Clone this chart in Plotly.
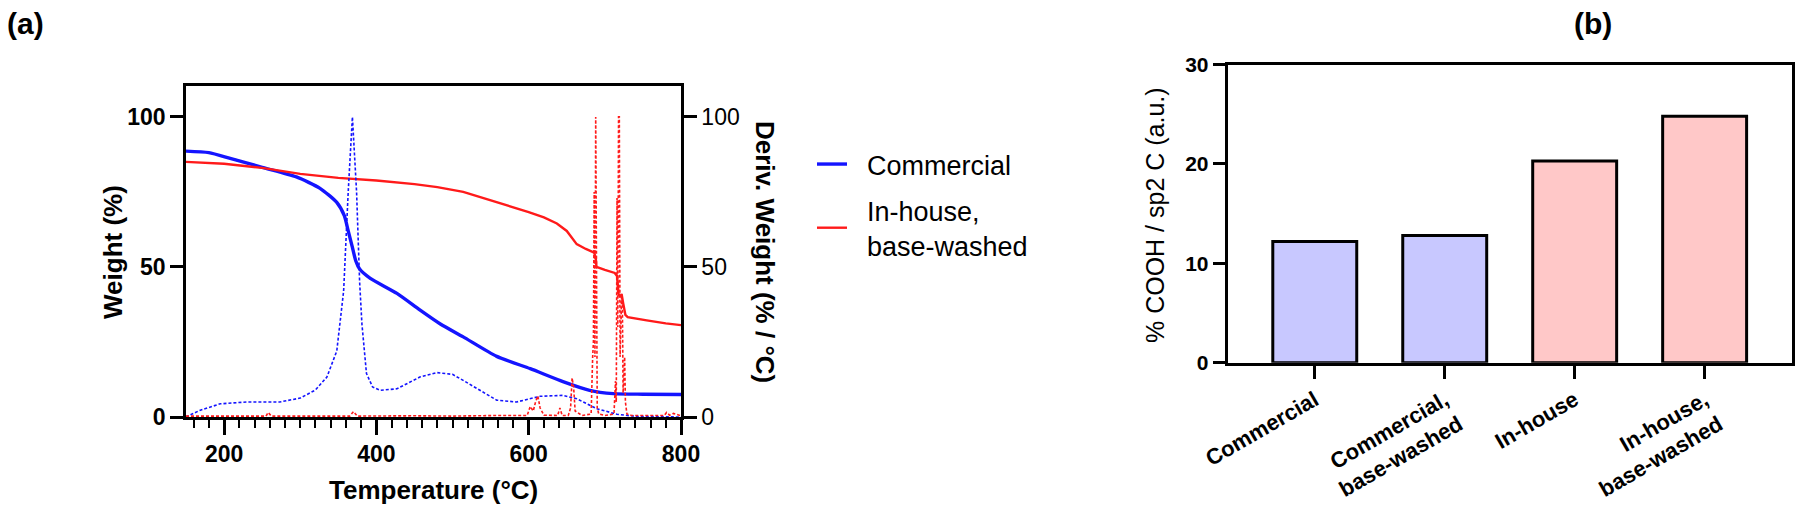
import plotly.graph_objects as go

# ---------------- Panel (a): TGA data ----------------
T_com_w = [150, 180, 208, 250, 295, 326, 348, 358, 363, 368, 373, 378, 392, 427, 457, 484, 514, 558, 602, 645, 680, 711, 750, 800]
W_com = [88.6, 88.1, 86.2, 83.2, 80.0, 76.2, 71.5, 67.0, 62.0, 57.0, 52.0, 49.3, 46.2, 41.2, 35.7, 31.0, 26.7, 20.2, 16.1, 11.8, 8.9, 7.8, 7.6, 7.5]

T_inh_w = [150, 200, 250, 300, 350, 400, 450, 480, 514, 558, 600, 620, 637, 650, 656, 663, 675, 686, 688, 689, 700, 713, 716, 718, 720, 722, 724, 727, 730, 740, 755, 780, 800]
W_inh = [85.0, 84.4, 83.0, 81.0, 79.7, 78.8, 77.6, 76.6, 75.0, 71.7, 68.3, 66.5, 64.5, 62.0, 60.0, 57.6, 56.0, 54.8, 53.0, 50.0, 49.0, 48.0, 47.0, 41.0, 40.0, 41.0, 38.0, 34.0, 33.3, 32.8, 32.2, 31.2, 30.6]

T_com_d = [150, 168, 195, 230, 273, 300, 320, 335, 348, 357, 363, 368.5, 374, 378, 381, 387, 395, 405, 427, 457, 480, 500, 514, 536, 558, 584, 615, 645, 663, 689, 716, 741, 800]
D_com = [0, 2.2, 4.4, 5.0, 5.0, 6.3, 9.0, 13.3, 22.0, 42.0, 75.0, 100.0, 75.0, 45.0, 31.0, 14.5, 10.0, 8.9, 9.4, 13.3, 14.8, 14.2, 12.2, 8.9, 5.6, 5.0, 6.9, 7.2, 6.1, 2.8, 0.9, 0.2, 0]

T_inh_d = [150, 200, 255, 258, 262, 300, 365, 370, 375, 450, 500, 560, 598, 602, 606, 609, 612, 615, 620, 638, 641, 644, 652, 655, 657, 659, 661, 670, 682, 684, 685, 686, 687, 688, 689, 690, 692, 700, 712, 714, 715, 716, 717, 718, 719, 720, 722, 723, 724, 726, 727, 729, 735, 760, 778, 781, 785, 790, 800]
D_inh = [0.3, 0.3, 0.3, 1.5, 0.3, 0.3, 0.3, 1.8, 0.3, 0.4, 0.3, 0.5, 0.5, 3.5, 2.0, 5.0, 7.0, 3.0, 0.6, 0.5, 3.0, 0.5, 0.5, 3.0, 13.0, 10.0, 2.0, 0.5, 1.0, 20.0, 25.0, 75.0, 20.0, 100.0, 10.0, 3.0, 1.0, 0.5, 1.0, 12.0, 5.0, 73.0, 30.0, 100.0, 100.0, 20.0, 40.0, 38.0, 8.0, 20.0, 5.0, 1.0, 0.5, 0.4, 0.5, 1.5, 0.6, 1.2, 0.4]

x_ticks_a = [200, 400, 600, 800]
y_ticks_a = [0, 50, 100]

# ---------------- Panel (b): bar data ----------------
categories = ["Commercial", "Commercial,<br>base-washed", "In-house", "In-house,<br>base-washed"]
cooh_values = [12.2, 12.8, 20.3, 24.8]
bar_colors = ["#c8c8ff", "#c8c8ff", "#ffc8c8", "#ffc8c8"]
y_ticks_b = [0, 10, 20, 30]

FONT = "Liberation Sans, Arial, sans-serif"
BLUE = "#1414ff"
RED = "#ff1a1a"
NB = "\u00a0\u00a0"

fig = go.Figure()

fig.add_trace(go.Scatter(x=T_com_d, y=D_com, mode="lines", xaxis="x", yaxis="y2",
                         line=dict(color=BLUE, width=1.6, dash="3px,2px"), showlegend=False,
                         name="Commercial (deriv.)"))
fig.add_trace(go.Scatter(x=T_inh_d, y=D_inh, mode="lines", xaxis="x", yaxis="y2",
                         line=dict(color=RED, width=1.6, dash="3px,2px"), showlegend=False,
                         name="In-house, base-washed (deriv.)"))
fig.add_trace(go.Scatter(x=T_com_w, y=W_com, mode="lines", xaxis="x", yaxis="y",
                         line=dict(color=BLUE, width=3.4, shape="spline", smoothing=0.6),
                         name=NB + "Commercial", legendgroup="g1"))
fig.add_trace(go.Scatter(x=T_inh_w, y=W_inh, mode="lines", xaxis="x", yaxis="y",
                         line=dict(color=RED, width=2.4),
                         name=NB + "In-house,<br>" + NB + "base-washed", legendgroup="g2"))

fig.add_trace(go.Bar(x=categories, y=cooh_values, xaxis="x2", yaxis="y3",
                     marker=dict(color=bar_colors, line=dict(color="black", width=3)),
                     width=0.646, showlegend=False))

yr = [0, 110.3]
fig.update_layout(
    width=1800, height=511,
    margin=dict(l=0, r=0, t=0, b=0, autoexpand=False),
    paper_bgcolor="white", plot_bgcolor="white",
    font=dict(family=FONT, color="black"),
    xaxis=dict(domain=[186/1800, 681/1800], range=[150, 800], anchor="y", automargin=False,
               tickmode="linear", tick0=0, dtick=200, ticks="outside", ticklen=15, tickwidth=2.5,
               minor=dict(tickmode="linear", tick0=0, dtick=20, ticks="outside", ticklen=8,
                          tickwidth=2, tickcolor="black"),
               tickcolor="black", showline=True, linecolor="black", linewidth=2.5, mirror=True,
               showgrid=False, zeroline=False,
               tickfont=dict(size=23, weight="bold", family=FONT)),
    yaxis=dict(domain=[(511-417)/511, (511-86)/511], range=yr, anchor="x", automargin=False,
               tickmode="array", tickvals=y_ticks_a, ticks="outside", ticklen=13, tickwidth=2.5,
               tickcolor="black", showline=True, linecolor="black", linewidth=2.5,
               showgrid=False, zeroline=False,
               tickfont=dict(size=23, weight="bold", family=FONT)),
    yaxis2=dict(range=yr, overlaying="y", side="right", anchor="x", automargin=False,
                tickmode="array", tickvals=y_ticks_a, ticks="outside", ticklen=13, tickwidth=2.5,
                tickcolor="black", showline=True, linecolor="black", linewidth=2.5,
                showgrid=False, zeroline=False,
                tickfont=dict(size=23, family=FONT)),
    xaxis2=dict(domain=[1227.7/1800, 1791.7/1800], range=[-0.67, 3.67], anchor="y3", automargin=False,
                type="category", ticks="outside", ticklen=13, tickwidth=3, tickcolor="black",
                showline=True, linecolor="black", linewidth=3, mirror=True,
                showgrid=False, zeroline=False, tickangle=-30,
                tickfont=dict(size=22, weight="bold", family=FONT)),
    yaxis3=dict(domain=[(511-362.7)/511, (511-64.5)/511], range=[0, 30], anchor="x2", automargin=False,
                tickmode="array", tickvals=y_ticks_b, ticks="outside", ticklen=12, tickwidth=3,
                tickcolor="black", showline=True, linecolor="black", linewidth=3, mirror=True,
                showgrid=False, zeroline=False,
                tickfont=dict(size=21, weight="bold", family=FONT)),
    legend=dict(x=812/1800, y=(511-140)/511, xanchor="left", yanchor="top",
                font=dict(size=27, family=FONT), bgcolor="rgba(0,0,0,0)",
                tracegroupgap=8, itemwidth=30),
    bargap=0.35,
)

ann = [
    dict(text="(a)", x=25/1800, y=(511-23)/511, font=dict(size=30, weight="bold")),
    dict(text="(b)", x=1593/1800, y=(511-23)/511, font=dict(size=30, weight="bold")),
    dict(text="Weight (%)", x=113/1800, y=(511-252)/511, textangle=-90, font=dict(size=26, weight="bold")),
    dict(text="Temperature (°C)", x=433.5/1800, y=(511-490)/511, font=dict(size=26, weight="bold")),
    dict(text="Deriv. Weight (% / °C)", x=765/1800, y=(511-252)/511, textangle=90, font=dict(size=26, weight="bold")),
    dict(text="% COOH / sp2 C (a.u.)", x=1155/1800, y=(511-215)/511, textangle=-90, font=dict(size=25)),
]
for a in ann:
    fig.add_annotation(xref="paper", yref="paper", showarrow=False, xanchor="center", yanchor="middle",
                       x=a["x"], y=a["y"], text=a["text"], textangle=a.get("textangle", 0),
                       font=dict(family=FONT, color="black", **a["font"]))

fig.write_html("out.html", config={"displayModeBar": False},
               post_script="document.body.style.margin='0';document.body.style.overflow='hidden';")
